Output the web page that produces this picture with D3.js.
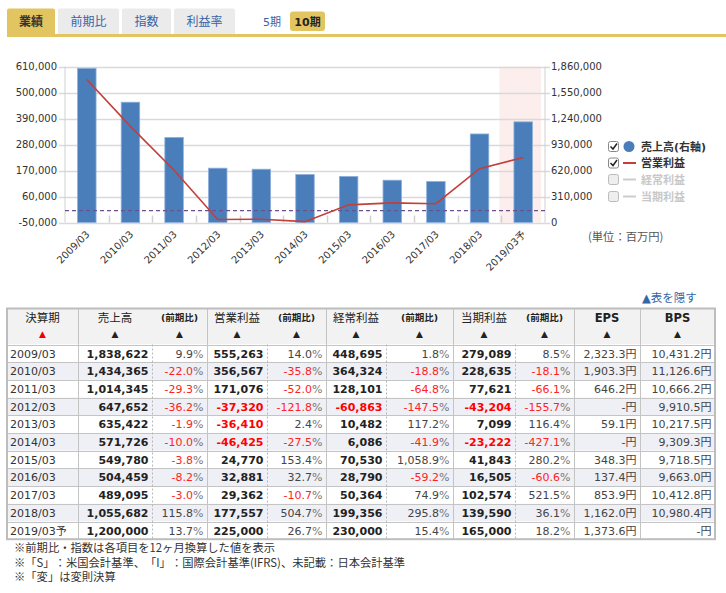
<!DOCTYPE html>
<html><head><meta charset="utf-8">
<script src="https://cdn.jsdelivr.net/npm/d3@7"></script>
<style>
body{margin:0;background:#fff;}
svg{display:block;font-family:"DejaVu Sans","Noto Sans CJK JP",sans-serif;text-spacing-trim:space-all;}
.cjk{font-family:"Noto Sans CJK JP","DejaVu Sans",sans-serif;}
</style></head><body>
<svg id="c" width="726" height="593"></svg>
<script>
// ---------- data ----------
const periods   = ["2009/03","2010/03","2011/03","2012/03","2013/03","2014/03","2015/03","2016/03","2017/03","2018/03","2019/03予"];
const sales     = [1838622,1434365,1014345,647652,635422,571726,549780,504459,489095,1055682,1200000];
const salesYoY  = [9.9,-22.0,-29.3,-36.2,-1.9,-10.0,-3.8,-8.2,-3.0,115.8,13.7];
const opProfit  = [555263,356567,171076,-37320,-36410,-46425,24770,32881,29362,177557,225000];
const opYoY     = [14.0,-35.8,-52.0,-121.8,2.4,-27.5,153.4,32.7,-10.7,504.7,26.7];
const ordProfit = [448695,364324,128101,-60863,10482,6086,70530,28790,50364,199356,230000];
const ordYoY    = [1.8,-18.8,-64.8,-147.5,117.2,-41.9,1058.9,-59.2,74.9,295.8,15.4];
const netProfit = [279089,228635,77621,-43204,7099,-23222,41843,16505,102574,139590,165000];
const netYoY    = [8.5,-18.1,-66.1,-155.7,116.4,-427.1,280.2,-60.6,521.5,36.1,18.2];
const eps       = [2323.3,1903.3,646.2,null,59.1,null,348.3,137.4,853.9,1162.0,1373.6];
const bps       = [10431.2,11126.6,10666.2,9910.5,10217.5,9309.3,9718.5,9663.0,10412.8,10980.4,null];
const leftTicks  = [-50000,60000,170000,280000,390000,500000,610000];
const rightTicks = [0,310000,620000,930000,1240000,1550000,1860000];
const tabLabels  = ["業績","前期比","指数","利益率"];
const legendLabels = ["売上高(右軸)","営業利益","経常利益","当期利益"];
const headerLabels = ["決算期","売上高","(前期比)","営業利益","(前期比)","経常利益","(前期比)","当期利益","(前期比)","EPS","BPS"];
const notes = ["※前期比・指数は各項目を12ヶ月換算した値を表示","※「S」：米国会計基準、「I」：国際会計基準(IFRS)、未記載：日本会計基準","※「変」は変則決算"];
const forecastPeriod = "2019/03予";

// ---------- setup ----------
const svg = d3.select("#c");
const GOLD = "#e2c460", BLUE = "#4a7ebb", RED = "#c43e3a";
const loc = d3.formatLocale({decimal:".", thousands:",", grouping:[3], currency:["",""], minus:"-"});
const fmt = loc.format(",");
const fmt1 = loc.format(",.1f");

// ---------- tabs ----------
const tabX = [[7,55],[58,119],[122,171],[174,235]];
const tg = svg.append("g");
tabLabels.forEach((t,i)=>{
  const [a,b] = tabX[i];
  tg.append("rect").attr("x",a).attr("y",8.5).attr("width",b-a).attr("height",27)
    .attr("rx",2).attr("fill", i===0?GOLD:"#ebebeb");
  tg.append("text").attr("x",(a+b)/2).attr("y",26).attr("text-anchor","middle")
    .attr("font-size",12).attr("font-weight", i===0?"bold":"normal")
    .attr("fill", i===0?"#333":"#3b62a6").text(t);
});
tg.append("rect").attr("x",7).attr("y",34).attr("width",719).attr("height",3).attr("fill",GOLD);
tg.append("text").attr("x",263).attr("y",25.5).attr("font-size",11).attr("fill","#3b62a6").text("5期");
tg.append("rect").attr("x",290).attr("y",11.5).attr("width",35).attr("height",19.5).attr("rx",3).attr("fill",GOLD);
tg.append("text").attr("x",307.5).attr("y",25.5).attr("text-anchor","middle").attr("font-size",11)
  .attr("font-weight","bold").attr("fill","#222").text("10期");

// ---------- chart ----------
const L = 65, R = 545, T = 66.5, B = 222.5;
const x = d3.scaleBand().domain(periods).range([L,R]);
const yL = d3.scaleLinear().domain([-50000,610000]).range([B,T]);
const yR = d3.scaleLinear().domain([0,1860000]).range([B,T]);
const cg = svg.append("g");

cg.append("rect").attr("x",x(forecastPeriod)-2).attr("y",T).attr("width",x.bandwidth()-2)
  .attr("height",B-T).attr("fill","#fdeeee");

cg.selectAll(".grid").data(leftTicks).join("line")
  .attr("x1",L-6).attr("x2",R).attr("y1",d=>Math.round(yL(d))+0.5).attr("y2",d=>Math.round(yL(d))+0.5)
  .attr("stroke","#d9d9d9").attr("stroke-width",1.5);
cg.selectAll(".rt").data(rightTicks).join("line")
  .attr("x1",R).attr("x2",R+5).attr("y1",d=>Math.round(yR(d))+0.5).attr("y2",d=>Math.round(yR(d))+0.5)
  .attr("stroke","#d9d9d9").attr("stroke-width",1.5);
cg.append("line").attr("x1",L).attr("x2",L).attr("y1",T).attr("y2",B).attr("stroke","#d0d0d0");
cg.append("line").attr("x1",R).attr("x2",R).attr("y1",T).attr("y2",B).attr("stroke","#d0d0d0");
// category ticks
cg.selectAll(".ct").data(periods.slice(1)).join("line")
  .attr("x1",d=>Math.round(x(d))+0.5).attr("x2",d=>Math.round(x(d))+0.5)
  .attr("y1",B-7).attr("y2",B).attr("stroke","#d0d0d0").attr("stroke-width",1.5);

// axis labels
cg.selectAll(".ll").data(leftTicks).join("text")
  .attr("x",57).attr("y",d=>yL(d)+3.5).attr("text-anchor","end").attr("font-size",10)
  .attr("fill","#333").text(d=>fmt(d));
cg.selectAll(".rl").data(rightTicks).join("text")
  .attr("x",551).attr("y",d=>yR(d)+3.5).attr("font-size",10)
  .attr("fill","#333").text(d=>fmt(d));

// bars
const bw = 18.5;
cg.selectAll(".bar").data(periods).join("rect")
  .attr("x",d=>x(d)+(x.bandwidth()-bw)/2).attr("width",bw)
  .attr("y",(d,i)=>yR(sales[i])).attr("height",(d,i)=>B-yR(sales[i]))
  .attr("fill",BLUE).attr("stroke","#8fb0dc").attr("stroke-width",0.8);

// zero dashed line
cg.append("line").attr("x1",L).attr("x2",R).attr("y1",yL(0)).attr("y2",yL(0))
  .attr("stroke","#6b5090").attr("stroke-width",1.2).attr("stroke-dasharray","4,3");

// line
const line = d3.line().x(d=>x(d[0])+x.bandwidth()/2).y(d=>yL(d[1]));
cg.append("path").datum(periods.map((p,i)=>[p,opProfit[i]])).attr("d",line)
  .attr("fill","none").attr("stroke",RED).attr("stroke-width",1.6);

// x labels
cg.selectAll(".xl").data(periods).join("text")
  .attr("transform",d=>`translate(${x(d)+x.bandwidth()/2+1},${B+10}) rotate(-45)`)
  .attr("text-anchor","end").attr("font-size",10).attr("fill","#333").attr("dy","0.35em")
  .text(d=>d);

// legend
const lg = svg.append("g");
const ly = [146.5,163,179.5,196.5];
legendLabels.forEach((t,i)=>{
  const on = i<2;
  lg.append("rect").attr("x",608.5).attr("y",ly[i]-5).attr("width",10).attr("height",10).attr("rx",2)
    .attr("fill",on?"#fff":"#eee").attr("stroke",on?"#888":"#bbb");
  if(on) lg.append("path").attr("d",`M${610.5},${ly[i]} l2.5,2.5 l4,-5.5`).attr("fill","none")
    .attr("stroke","#222").attr("stroke-width",1.5);
  if(i===0) lg.append("circle").attr("cx",629).attr("cy",ly[i]).attr("r",5.5).attr("fill",BLUE);
  else lg.append("line").attr("x1",623).attr("x2",636).attr("y1",ly[i]).attr("y2",ly[i])
    .attr("stroke",on?RED:"#ccc").attr("stroke-width",2);
  lg.append("text").attr("x",641).attr("y",ly[i]+4).attr("font-size",11).attr("font-weight","bold")
    .attr("fill",on?"#333":"#c8c8c8").text(t);
});
lg.append("text").attr("class","cjk").attr("x",588).attr("y",240.5).attr("font-size",11.3).attr("fill","#555").text("(単位：百万円)");

// ---------- table ----------
const tbl = svg.append("g");
tbl.append("text").attr("x",642).attr("y",302).attr("font-size",11.5).attr("fill","#3566a8").text("▲表を隠す");
const TX0 = 7, TX1 = 715, HT = 308.5, HB = 344.5, RH = 17.7;
const colEdges = [7,78,152,207,267,326,386,453,515,574,640,715];
const solidEdges = [78,207,326,453,574,640];
const dashEdges = [152,267,386,515];
const TB = HB + RH*periods.length;

tbl.append("rect").attr("x",TX0).attr("y",HT).attr("width",TX1-TX0).attr("height",HB-HT).attr("fill","#f2f2f2");
periods.forEach((p,i)=>{
  tbl.append("rect").attr("x",TX0).attr("y",HB+RH*i).attr("width",TX1-TX0).attr("height",RH)
    .attr("fill", i%2===1 ? "#efeff6" : "#fff");
});
for(let i=0;i<=periods.length;i++){
  const yy = Math.round(HB+RH*i)+0.5;
  tbl.append("line").attr("x1",TX0).attr("x2",TX1).attr("y1",yy).attr("y2",yy).attr("stroke","#c4c4c4");
}
solidEdges.forEach(e=>tbl.append("line").attr("x1",e+0.5).attr("x2",e+0.5).attr("y1",HT).attr("y2",TB).attr("stroke","#c4c4c4"));
dashEdges.forEach(e=>tbl.append("line").attr("x1",e+0.5).attr("x2",e+0.5).attr("y1",HB).attr("y2",TB)
  .attr("stroke","#b8b8b8").attr("stroke-dasharray","2,2"));
tbl.append("rect").attr("x",TX0).attr("y",HT).attr("width",TX1-TX0).attr("height",TB-HT)
  .attr("fill","none").attr("stroke","#bdbdbd").attr("stroke-width",2);

// headers
headerLabels.forEach((h,i)=>{
  const cx = (colEdges[i]+colEdges[i+1])/2;
  const small = h.startsWith("(");
  tbl.append("text").attr("x",cx).attr("y",small?321:322).attr("text-anchor","middle")
    .attr("font-size",small?9.5:11.5).attr("font-weight",(small||/[A-Z]/.test(h))?"bold":"normal")
    .attr("fill","#222").text(h);
  tbl.append("text").attr("x",cx).attr("y",337).attr("text-anchor","middle").attr("font-size",9)
    .attr("fill", i===0?"#e00":"#222").text("▲");
});

// data cells
const cols = [
  {vals:sales, kind:"num"},{vals:salesYoY, kind:"pct"},
  {vals:opProfit, kind:"num"},{vals:opYoY, kind:"pct"},
  {vals:ordProfit, kind:"num"},{vals:ordYoY, kind:"pct"},
  {vals:netProfit, kind:"num"},{vals:netYoY, kind:"pct"},
  {vals:eps, kind:"yen"},{vals:bps, kind:"yen"}
];
periods.forEach((p,i)=>{
  const by = HB+RH*i+13;
  tbl.append("text").attr("x",10).attr("y",by).attr("font-size",11).attr("fill","#333").text(p);
  cols.forEach((c,j)=>{
    const v = c.vals[i];
    const xr = colEdges[j+2]-3.5;
    const t = tbl.append("text").attr("x",xr).attr("y",by).attr("text-anchor","end").attr("font-size",11);
    if(c.kind==="num"){
      t.attr("font-weight","bold").attr("fill",v<0?"#f00":"#222").text(fmt(v));
    } else if(c.kind==="pct"){
      t.attr("fill",v<0?"#f22":"#444").text(fmt1(v));
      t.append("tspan").attr("fill","#777").text("%");
    } else {
      t.attr("fill","#444").text((v==null?"-":fmt1(v))+"円");
    }
  });
});

// notes
notes.forEach((n,i)=>{
  svg.append("text").attr("class","cjk").attr("x",14).attr("y",552+i*14.5).attr("font-size",11.3).attr("fill","#333").text(n);
});
</script>
</body></html>
